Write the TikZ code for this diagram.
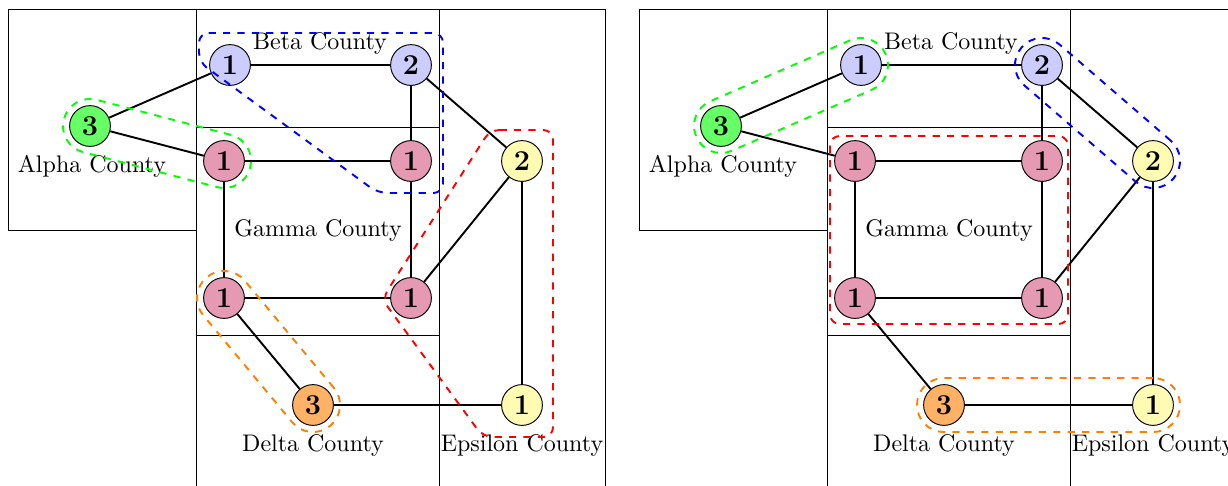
\documentclass[tikz,border=0pt]{standalone}
\usetikzlibrary{calc}
\colorlet{cgreen}{green!60}
\colorlet{cblue}{blue!20}
\colorlet{cpink}{purple!40}
\colorlet{cyellow}{yellow!30}
\colorlet{corange}{orange!60}
\tikzset{
  cnode/.style={circle, draw, thin, minimum size=17pt, inner sep=0pt, font=\large\bfseries},
  boxline/.style={draw=black, thin},
  edge/.style={thick},
  grp/.style={dashed, thick, rounded corners=4pt},
  lbl/.style={inner sep=1pt}
}
\newcommand{\mystadium}[3]{%
  \path let \p1=($(#2)-(#1)$), \n1={veclen(\x1,\y1)}, \n2={atan2(\y1,\x1)} in
    node[draw=#3, dashed, thick, rounded corners=11.2pt, inner sep=0pt,
         minimum width={(\n1+22.5)*1pt}, minimum height=22.5pt, rotate=\n2]
    at ($(#1)!0.5!(#2)$) {};}
\newcommand{\drawpanel}[1]{%
  \draw[boxline] (8,9) rectangle (196,230);
  \draw[boxline] (196,9) rectangle (439,127);
  \draw[boxline] (196,127) rectangle (439,335);
  \draw[boxline] (196,335) rectangle (439,520);
  \draw[boxline] (439,9) rectangle (605,520);
  \node[lbl] (#1alpha) at (92,166) {Alpha County};
  \node[lbl] (#1beta) at (320,43) {Beta County};
  \node[lbl] (#1gamma) at (318,230) {Gamma County};
  \node[lbl] (#1delta) at (313,445) {Delta County};
  \node[lbl] (#1eps) at (522,445) {Epsilon County};
  \node[cnode, fill=cgreen] (#1A) at (90,126) {3};
  \node[cnode, fill=cblue] (#1B1) at (230,65) {1};
  \node[cnode, fill=cblue] (#1B2) at (411,65) {2};
  \node[cnode, fill=cpink] (#1G1) at (224,161) {1};
  \node[cnode, fill=cpink] (#1G2) at (411,161) {1};
  \node[cnode, fill=cpink] (#1G3) at (224,298) {1};
  \node[cnode, fill=cpink] (#1G4) at (411,298) {1};
  \node[cnode, fill=cyellow] (#1E2) at (522,161) {2};
  \node[cnode, fill=cyellow] (#1E1) at (522,405) {1};
  \node[cnode, fill=corange] (#1D) at (313,405) {3};
  \draw[edge] (#1A) -- (#1B1);
  \draw[edge] (#1A) -- (#1G1);
  \draw[edge] (#1B1) -- (#1B2);
  \draw[edge] (#1B2) -- (#1G2);
  \draw[edge] (#1B2) -- (#1E2);
  \draw[edge] (#1G1) -- (#1G2);
  \draw[edge] (#1G1) -- (#1G3);
  \draw[edge] (#1G2) -- (#1G4);
  \draw[edge] (#1G3) -- (#1G4);
  \draw[edge] (#1G4) -- (#1E2);
  \draw[edge] (#1G3) -- (#1D);
  \draw[edge] (#1D) -- (#1E1);
  \draw[edge] (#1E2) -- (#1E1);
}
\begin{document}
\begin{tikzpicture}[x=0.4167pt, y=-0.4167pt]
\useasboundingbox (0,0) rectangle (1228,485);
\clip (0,0) rectangle (1228,485);
% left panel
\drawpanel{L}
\mystadium{LA}{LG1}{green}
\mystadium{LG3}{LD}{orange}
\draw[grp, blue] ($(LB1)+(-31,-32)$) -- ($(LB2)+(32,-32)$) -- ($(LG2)+(32,32)$)
  -- ($(LG2)+(-33,32)$) -- ($(LB1)+(-31,-3)$) -- cycle;
\draw[grp, red] ($(LE2)+(-32,-31)$) -- ($(LE2)+(31,-31)$) -- ($(LE1)+(31,32)$)
  -- ($(LE1)+(-39,32)$) -- ($(LG4)+(-29,1)$) -- cycle;
% right panel
\begin{scope}[shift={(631,0)}]
\drawpanel{R}
\end{scope}
\mystadium{RA}{RB1}{green}
\mystadium{RB2}{RE2}{blue}
\mystadium{RD}{RE1}{orange}
\draw[grp, red] ($(RG1)+(-25,-25)$) rectangle ($(RG4)+(26,26)$);
\end{tikzpicture}
\end{document}
